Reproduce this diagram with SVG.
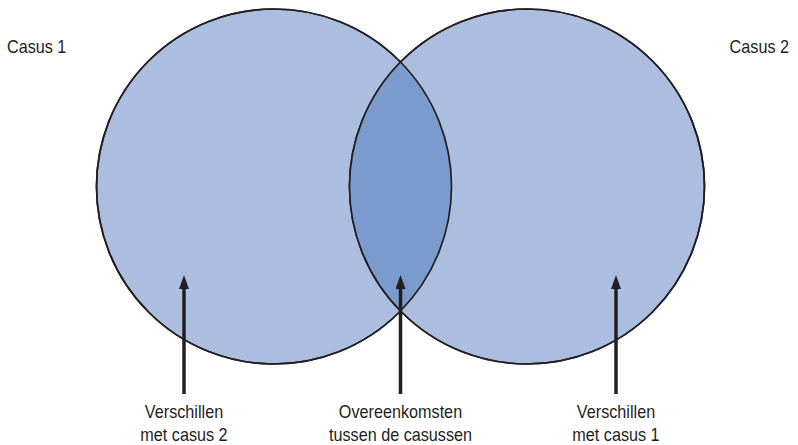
<svg xmlns="http://www.w3.org/2000/svg" width="798" height="445" viewBox="0 0 798 445">
<style>
.circ{fill:#abbee0;stroke:#231f20;stroke-width:1.7}
.lens{fill:#7b9acd;stroke:none}
.lbl{font-family:"Liberation Sans",Arial,sans-serif;font-size:18px;fill:#231f20}
.arr{stroke:#231f20;stroke-width:3.5;fill:none}
</style>
<defs>
<marker id="ah" viewBox="0 0 14 10" refX="0" refY="5" markerUnits="userSpaceOnUse" markerWidth="14" markerHeight="10" orient="auto">
<path d="M0,0 L14,5 L0,10 Z" fill="#231f20"/>
</marker>
<clipPath id="clipL"><circle cx="274" cy="186.5" r="177.5"/></clipPath>
</defs>
<g id="circle1"><circle class="circ" cx="274" cy="186.5" r="177.5"/></g>
<g id="circle2"><circle class="circ" cx="527" cy="186.5" r="177.5"/></g>
<g id="overlap"><circle class="lens" cx="527" cy="186.5" r="177.5" clip-path="url(#clipL)"/>
<circle cx="274" cy="186.5" r="177.5" fill="none" stroke="#231f20" stroke-width="1.7"/>
<circle cx="527" cy="186.5" r="177.5" fill="none" stroke="#231f20" stroke-width="1.7"/></g>
<g id="casus1"><text class="lbl" x="7" y="53" transform="translate(7,0) scale(0.9,1) translate(-7,0)">Casus 1</text></g>
<g id="casus2"><text class="lbl" x="789" y="53" text-anchor="end" transform="translate(789,0) scale(0.9,1) translate(-789,0)">Casus 2</text></g>
<g id="connectors">
<line class="arr" x1="184" y1="394" x2="184" y2="289" marker-end="url(#ah)"/>
<line class="arr" x1="400.5" y1="394" x2="400.5" y2="289" marker-end="url(#ah)"/>
<line class="arr" x1="616" y1="394" x2="616" y2="289" marker-end="url(#ah)"/>
</g>
<g id="label1" transform="translate(184,0) scale(0.9,1)"><text class="lbl" x="0" y="418" text-anchor="middle">Verschillen</text><text class="lbl" x="0" y="441" text-anchor="middle">met casus 2</text></g>
<g id="label2" transform="translate(400.5,0) scale(0.9,1)"><text class="lbl" x="0" y="418" text-anchor="middle">Overeenkomsten</text><text class="lbl" x="0" y="441" text-anchor="middle">tussen de casussen</text></g>
<g id="label3" transform="translate(616,0) scale(0.9,1)"><text class="lbl" x="0" y="418" text-anchor="middle">Verschillen</text><text class="lbl" x="0" y="441" text-anchor="middle">met casus 1</text></g>
</svg>
